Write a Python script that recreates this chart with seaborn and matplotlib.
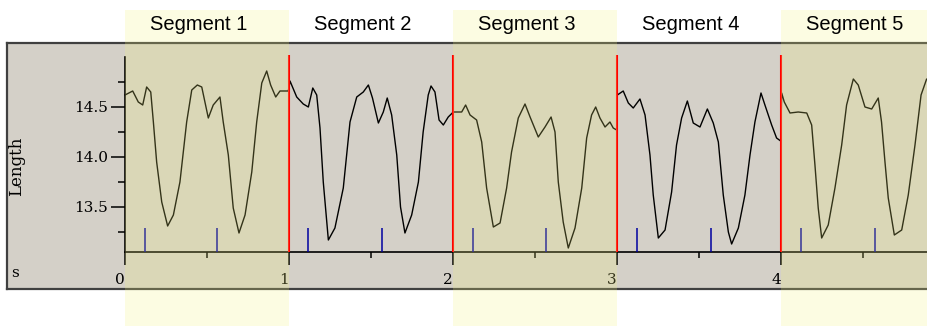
import matplotlib
matplotlib.use("Agg")
import matplotlib.pyplot as plt
import seaborn as sns
import pandas as pd

# ---------------- data ----------------
segment_names = ["Segment 1", "Segment 2", "Segment 3", "Segment 4", "Segment 5"]
segment_starts = [0, 1, 2, 3, 4]
segment_ends = [1, 2, 3, 4, 5]
segment_highlighted = [True, False, True, False, True]
boundaries = [1, 2, 3, 4]
markers = [0.12, 0.56, 1.118, 1.569, 2.125, 2.565, 3.124, 3.575, 4.122, 4.573]

seg1_t = [0.000, 0.047, 0.081, 0.108, 0.132, 0.157, 0.173, 0.193, 0.224, 0.260, 0.295,
          0.335, 0.376, 0.407, 0.441, 0.468, 0.508, 0.538, 0.579, 0.599, 0.630, 0.660,
          0.695, 0.732, 0.773, 0.803, 0.834, 0.864, 0.888, 0.919, 0.945, 0.996]
seg1_len = [14.62, 14.66, 14.55, 14.52, 14.70, 14.65, 14.35, 13.95, 13.55, 13.31, 13.42,
            13.75, 14.35, 14.67, 14.72, 14.70, 14.39, 14.52, 14.60, 14.35, 14.02, 13.49,
            13.24, 13.42, 13.85, 14.35, 14.74, 14.86, 14.72, 14.60, 14.66, 14.66]

seg2_t = [1.006, 1.047, 1.087, 1.118, 1.145, 1.169, 1.189, 1.209, 1.240, 1.280, 1.331,
          1.372, 1.413, 1.453, 1.484, 1.509, 1.545, 1.575, 1.599, 1.626, 1.657, 1.680,
          1.707, 1.748, 1.789, 1.818, 1.849, 1.866, 1.890, 1.915, 1.941, 1.971, 2.002]
seg2_len = [14.76, 14.60, 14.53, 14.50, 14.69, 14.62, 14.29, 13.75, 13.17, 13.29, 13.69,
            14.35, 14.60, 14.65, 14.72, 14.59, 14.34, 14.45, 14.59, 14.42, 14.02, 13.50,
            13.24, 13.42, 13.75, 14.25, 14.62, 14.71, 14.65, 14.37, 14.32, 14.40, 14.45]

seg3_t = [2.053, 2.077, 2.104, 2.144, 2.175, 2.205, 2.246, 2.287, 2.327, 2.357, 2.398,
          2.439, 2.470, 2.520, 2.561, 2.598, 2.622, 2.642, 2.672, 2.703, 2.744, 2.785,
          2.815, 2.845, 2.870, 2.896, 2.927, 2.957, 2.977, 2.998]
seg3_len = [14.45, 14.52, 14.42, 14.37, 14.15, 13.69, 13.30, 13.34, 13.69, 14.05, 14.39,
            14.53, 14.40, 14.20, 14.30, 14.40, 14.25, 13.75, 13.35, 13.09, 13.29, 13.69,
            14.19, 14.42, 14.50, 14.39, 14.30, 14.35, 14.29, 14.27]

seg4_t = [3.002, 3.038, 3.069, 3.099, 3.140, 3.171, 3.201, 3.221, 3.252, 3.293, 3.333,
          3.363, 3.394, 3.429, 3.465, 3.506, 3.551, 3.587, 3.618, 3.648, 3.679, 3.699,
          3.740, 3.780, 3.811, 3.841, 3.878, 3.902, 3.943, 3.973, 3.998]
seg4_len = [14.62, 14.66, 14.54, 14.49, 14.58, 14.42, 14.02, 13.62, 13.19, 13.27, 13.65,
            14.12, 14.39, 14.56, 14.34, 14.30, 14.48, 14.34, 14.15, 13.62, 13.25, 13.13,
            13.29, 13.62, 14.02, 14.35, 14.64, 14.52, 14.32, 14.19, 14.16]

seg5_t = [4.004, 4.020, 4.055, 4.105, 4.157, 4.187, 4.207, 4.227, 4.248, 4.288, 4.329,
          4.370, 4.400, 4.441, 4.471, 4.512, 4.553, 4.593, 4.613, 4.634, 4.654, 4.691,
          4.736, 4.776, 4.817, 4.854, 4.888]
seg5_len = [14.64, 14.55, 14.44, 14.45, 14.44, 14.32, 13.92, 13.49, 13.19, 13.32, 13.69,
            14.12, 14.52, 14.78, 14.72, 14.50, 14.48, 14.59, 14.35, 13.95, 13.59, 13.22,
            13.27, 13.62, 14.12, 14.62, 14.78]

y_major = [13.5, 14.0, 14.5]
y_major_labels = ["13.5", "14.0", "14.5"]
y_minor = [13.25, 13.75, 14.25, 14.75]
x_major = [0, 1, 2, 3, 4]
x_major_labels = ["0", "1", "2", "3", "4"]
x_minor = [0.5, 1.5, 2.5, 3.5, 4.5]

df = pd.DataFrame({
    "t": seg1_t + seg2_t + seg3_t + seg4_t + seg5_t,
    "length": seg1_len + seg2_len + seg3_len + seg4_len + seg5_len,
})

# ---------------- style ----------------
sns.set_style("white")
plt.rcParams["font.family"] = ["DejaVu Sans"]

W, H = 928, 326
fig = plt.figure(figsize=(W / 100, H / 100), dpi=100)
fig.patch.set_facecolor("white")

# panel in pixels: left 7, right 928, top 43, bottom 289
P_L, P_R, P_T, P_B = 7, 928, 43, 289
rect = [P_L / W, (H - P_B) / H, (P_R - P_L) / W, (P_B - P_T) / H]
PX_PER_X = 164.0
X0_PX = 125.0
PX_PER_Y = 100.0
Y145_PX = 107.0

ax_bg = fig.add_axes(rect, zorder=0)
ax_bg.set_facecolor("#D4D0C8")
ax_bg.set_xticks([])
ax_bg.set_yticks([])
for s in ["top", "left", "bottom"]:
    ax_bg.spines[s].set_color("#404040")
    ax_bg.spines[s].set_linewidth(1.6)
ax_bg.spines["right"].set_visible(False)

ax = fig.add_axes(rect, zorder=1)
ax.set_facecolor("none")
xlim = ((P_L - X0_PX) / PX_PER_X, (P_R - X0_PX) / PX_PER_X)
ylim = (14.5 - (P_B - Y145_PX) / PX_PER_Y, 14.5 + (Y145_PX - P_T) / PX_PER_Y)

sns.lineplot(data=df, x="t", y="length", ax=ax, color="black", linewidth=1.0,
             estimator=None, sort=False, legend=False, zorder=2)

ax.set_xlim(*xlim)
ax.set_ylim(*ylim)
ax.set_xlabel("")
ax.set_ylabel("")

axis_y = 13.05
ax.vlines(boundaries, axis_y, 15.02, colors="#FF0000", linewidth=1.5, zorder=3)
ax.vlines(markers, axis_y, 13.29, colors="#0000A0", linewidth=1.1, zorder=3)

for s in ["top", "right"]:
    ax.spines[s].set_visible(False)
ax.spines["left"].set_position(("data", 0))
ax.spines["left"].set_bounds(axis_y, 15.0)
ax.spines["bottom"].set_position(("data", axis_y))
ax.spines["bottom"].set_bounds(0, xlim[1])
for s in ["left", "bottom"]:
    ax.spines[s].set_color("black")
    ax.spines[s].set_linewidth(1.2)
    ax.spines[s].set_zorder(2.5)

ax.set_yticks(y_major)
ax.set_yticklabels(y_major_labels)
ax.set_yticks(y_minor, minor=True)
ax.set_xticks(x_major)
ax.set_xticklabels(x_major_labels)
ax.set_xticks(x_minor, minor=True)
ax.tick_params(axis="y", which="major", direction="out", length=10, width=1.1,
               pad=2, colors="black", labelsize=11, left=True)
ax.tick_params(axis="y", which="minor", direction="out", length=5, width=1.1,
               colors="black", left=True)
ax.tick_params(axis="x", which="major", direction="out", length=9, width=1.1,
               pad=6, colors="black", labelsize=11, bottom=True)
ax.tick_params(axis="x", which="minor", direction="out", length=4.5, width=1.1,
               colors="black", bottom=True)
for lab in ax.get_yticklabels():
    lab.set_family(["DejaVu Serif"])
for lab in ax.get_xticklabels():
    lab.set_family(["DejaVu Serif"])
    lab.set_horizontalalignment("right")

# segment highlight overlays (extend above and below the panel)
ph = P_B - P_T
ymin_f = -(H - P_B) / ph
ymax_f = 1 + (P_T - 10) / ph
for s0, s1, hl in zip(segment_starts, segment_ends, segment_highlighted):
    if hl:
        ax.axvspan(s0, s1, ymin=ymin_f, ymax=ymax_f, facecolor=(245/255, 245/255, 122/255),
                   alpha=0.21, linewidth=0, zorder=5, clip_on=False)

label_y = 1 + (P_T - 25) / ph
for name, s0, s1 in zip(segment_names, segment_starts, segment_ends):
    ax.text((s0 + s1) / 2 - 8 / PX_PER_X, label_y, name, transform=ax.get_xaxis_transform(),
            ha="center", va="center", fontsize=14.5, family=["Liberation Sans"],
            color="black", zorder=10, clip_on=False)

fig.text(17 / W, 1 - 166 / H, "Length", rotation=90, ha="center", va="center",
         fontsize=12, family=["DejaVu Serif"], color="black")
fig.text(15 / W, 1 - 273 / H, "s", ha="center", va="center",
         fontsize=11, family=["DejaVu Serif"], color="black")

fig.savefig("out.png", dpi=100, facecolor="white")
